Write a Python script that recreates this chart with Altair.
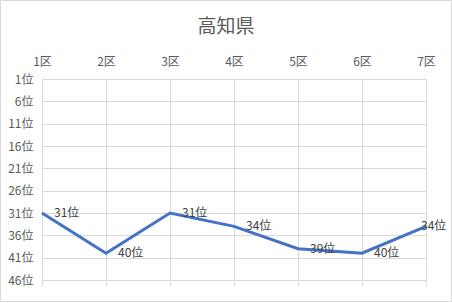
import altair as alt
import pandas as pd

districts = ["1区", "2区", "3区", "4区", "5区", "6区", "7区"]
ranks = [31, 40, 31, 34, 39, 40, 34]
y_ticks = [1, 6, 11, 16, 21, 26, 31, 36, 41, 46]

df = pd.DataFrame({"district": districts, "rank": ranks})
df["label"] = df["rank"].astype(str) + "位"
df["last"] = [False] * (len(districts) - 1) + [True]

FONT = "Noto Sans CJK JP"
GRID = "#d9d9d9"
TXT = "#595959"

xscale = alt.Scale(type="point", domain=districts, padding=0)
yscale = alt.Scale(domain=[1, 46], reverse=True, nice=False, zero=False)

base = alt.Chart(df)

line = base.mark_line(color="#4472C4", strokeWidth=3).encode(
    x=alt.X("district:N", scale=xscale, sort=districts,
            axis=alt.Axis(orient="top", title=None, labelAngle=0, ticks=False,
                          domain=False, grid=True, gridColor=GRID,
                          labelColor=TXT, labelFont=FONT, labelFontSize=12,
                          labelPadding=11)),
    y=alt.Y("rank:Q", scale=yscale,
            axis=alt.Axis(values=y_ticks, title=None, ticks=False, domain=False,
                          grid=True, gridColor=GRID, labelColor=TXT,
                          labelFont=FONT, labelFontSize=12, labelPadding=9,
                          labelExpr="datum.value + '位'")),
)

bottom_ticks = base.mark_point(opacity=0).encode(
    x=alt.X("district:N", scale=xscale, sort=districts,
            axis=alt.Axis(orient="bottom", title=None, labels=False, ticks=True,
                          tickSize=5, tickColor=GRID, domain=True,
                          domainColor=GRID, grid=False)),
    y=alt.Y("rank:Q", scale=yscale, axis=None),
)

labels = base.transform_filter("!datum.last").mark_text(
    align="left", baseline="middle", dx=12, font=FONT, fontSize=12, color="#404040"
).encode(
    x=alt.X("district:N", scale=xscale, sort=districts, axis=None),
    y=alt.Y("rank:Q", scale=yscale, axis=None),
    text="label:N",
)

last_label = base.transform_filter("datum.last").mark_text(
    align="left", baseline="middle", dx=-5, font=FONT, fontSize=12, color="#404040"
).encode(
    x=alt.X("district:N", scale=xscale, sort=districts, axis=None),
    y=alt.Y("rank:Q", scale=yscale, axis=None),
    text="label:N",
)

border = alt.Chart(pd.DataFrame({"a": [0]})).mark_rect(
    fillOpacity=0, stroke=GRID, strokeWidth=1, clip=False
).encode(
    x=alt.value(-41.5), x2=alt.value(409.5), y=alt.value(-78.5), y2=alt.value(222.5)
)

chart = alt.layer(line, bottom_ticks, labels, last_label, border).resolve_axis(
    x="independent", y="independent"
).properties(
    width=384,
    height=201,
    padding={"left": 42, "top": 79, "right": 26, "bottom": 23},
    autosize=alt.AutoSizeParams(type="none"),
    title=alt.TitleParams("高知県", font=FONT, fontSize=19, fontWeight="normal",
                          color=TXT, anchor="middle", dx=-8, offset=0, dy=37),
).configure_view(stroke=None).configure(background="white")

chart.save("out.html", embed_options={"renderer": "svg", "actions": False})
